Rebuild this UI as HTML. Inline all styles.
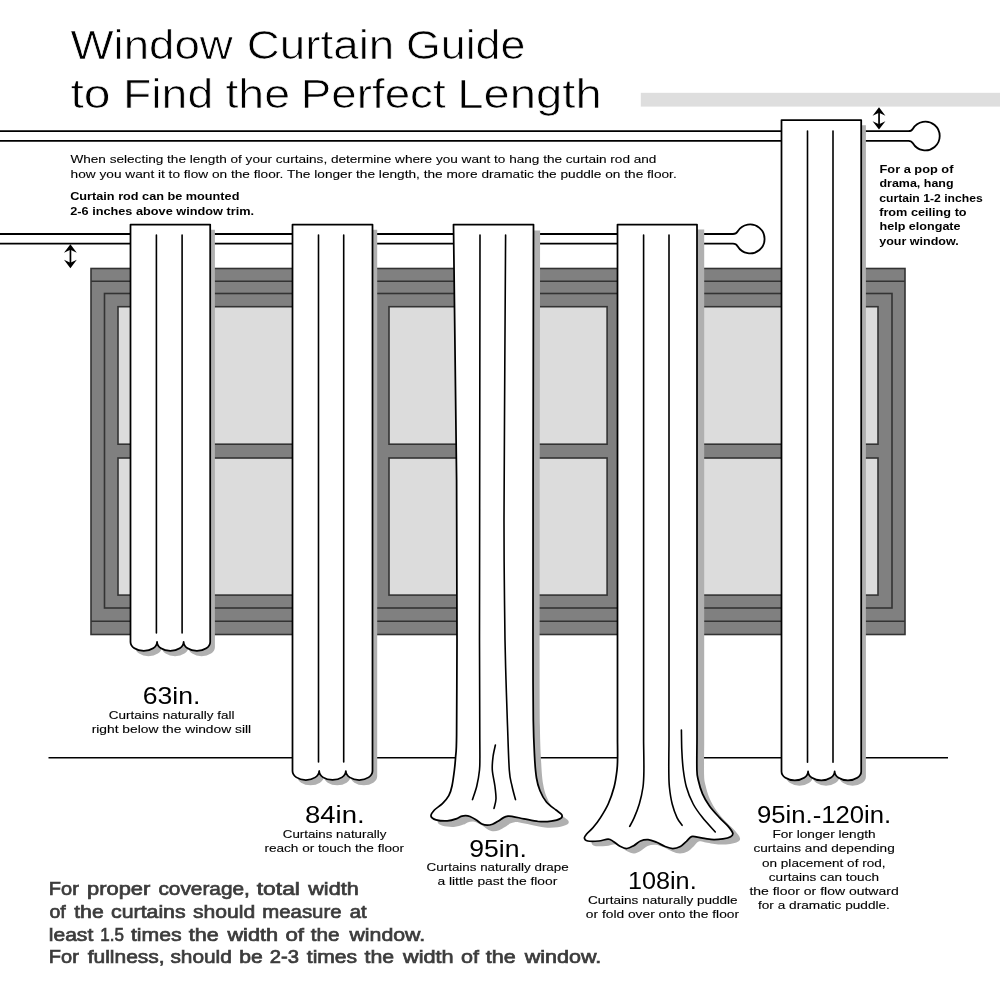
<!DOCTYPE html>
<html>
<head>
<meta charset="utf-8">
<title>Window Curtain Guide</title>
<style>
html,body{margin:0;padding:0;background:#fff;}
body{width:1000px;height:1000px;overflow:hidden;font-family:"Liberation Sans",sans-serif;}
svg{display:block;position:absolute;left:0;top:0;}
text{font-family:"Liberation Sans",sans-serif;fill:#000;}
.t{font-size:40px;stroke:#fff;stroke-width:0.7px;}
.p{font-size:11.8px;stroke:#000;stroke-width:0.1px;}
.b{font-size:11.8px;font-weight:bold;}
.n{font-size:23.1px;}
.s{font-size:11.5px;stroke:#000;stroke-width:0.12px;}
.f{font-size:18.4px;fill:#3c3c3c;stroke:#3c3c3c;stroke-width:0.7px;}
.cf{fill:#fff;stroke:#000;stroke-width:1.75;stroke-linejoin:round;}
.fl{fill:none;stroke:#000;stroke-width:1.6;stroke-linecap:round;}
.sh{fill:#b0b0b0;stroke:none;}
.fr{fill:#808080;stroke:#333;stroke-width:1.6;}
.gl{fill:#dcdcdc;stroke:#333;stroke-width:1.6;}
</style>
</head>
<body>
<svg width="1000" height="1000" viewBox="0 0 1000 1000" style="will-change:transform">

<!-- ceiling bar -->
<rect x="640.8" y="92.8" width="359.2" height="13.8" fill="#dedede"/>

<!-- upper rod -->
<g id="rod-upper">
<path d="M0 131.2 H908.5 Q911.5 131.2 912.9 128.7 A14.4 14.4 0 1 1 912.9 143.3 Q911.5 140.8 908.5 140.8 H0" fill="#fff" stroke="#000" stroke-width="1.8"/>
</g>

<!-- lower rod -->
<g id="rod-lower">
<path d="M0 234 H733 Q736.2 234 737.6 231.5 A14.5 14.5 0 1 1 737.6 246.3 Q736.2 243.6 733 243.6 H0" fill="#fff" stroke="#000" stroke-width="1.8"/>
</g>

<!-- arrows -->
<g id="arrow-left" fill="#000" stroke="none">
<rect x="69.6" y="247" width="1.7" height="18"/>
<path d="M70.4 244.2 L76.8 252.8 L70.4 249.8 L64 252.8 Z"/>
<path d="M70.4 268.2 L76.8 259.8 L70.4 262.8 L64 259.8 Z"/>
</g>
<g id="arrow-right" fill="#000" stroke="none">
<rect x="878.2" y="110" width="1.7" height="17"/>
<path d="M879 107.3 L885.4 115.8 L879 112.8 L872.6 115.8 Z"/>
<path d="M879 129.6 L885.4 121.2 L879 124.2 L872.6 121.2 Z"/>
</g>

<!-- window -->
<g id="window">
<rect class="fr" x="91" y="268.5" width="814" height="366"/>
<line x1="91" y1="281.3" x2="905" y2="281.3" stroke="#333" stroke-width="1.6"/>
<line x1="91" y1="621.3" x2="905" y2="621.3" stroke="#333" stroke-width="1.6"/>
<rect class="fr" x="104.5" y="293.5" width="787.5" height="314.5"/>
<!-- panes -->
<rect class="gl" x="118" y="306.7" width="258" height="137.5"/>
<rect class="gl" x="118" y="458" width="258" height="137.1"/>
<rect class="gl" x="389" y="306.7" width="218.1" height="137.5"/>
<rect class="gl" x="389" y="458" width="218.1" height="137.1"/>
<rect class="gl" x="620" y="306.7" width="258" height="137.5"/>
<rect class="gl" x="620" y="458" width="258" height="137.1"/>
</g>

<!-- floor line -->
<line x1="48.5" y1="757.8" x2="948" y2="757.8" stroke="#000" stroke-width="1.5"/>

<!-- curtain 1 : 63in -->
<g id="c1">
<path class="sh" transform="translate(4.7,5.3)" d="M130.5 224.5 H210.2 V641.9 A13.28 9 0 0 1 183.63 641.9 A13.28 9 0 0 1 157.07 641.9 A13.28 9 0 0 1 130.5 641.9 Z"/>
<path class="cf" d="M130.5 224.5 H210.2 V641.9 A13.28 9 0 0 1 183.63 641.9 A13.28 9 0 0 1 157.07 641.9 A13.28 9 0 0 1 130.5 641.9 Z"/>
<line class="fl" x1="156.4" y1="235" x2="156.4" y2="633"/>
<line class="fl" x1="182.1" y1="235" x2="182.1" y2="633"/>
</g>

<!-- curtain 2 : 84in -->
<g id="c2">
<path class="sh" transform="translate(4.7,5.3)" d="M292.5 224.5 H372.5 V771 A13.33 9 0 0 1 345.83 771 A13.33 9 0 0 1 319.17 771 A13.33 9 0 0 1 292.5 771 Z"/>
<path class="cf" d="M292.5 224.5 H372.5 V771 A13.33 9 0 0 1 345.83 771 A13.33 9 0 0 1 319.17 771 A13.33 9 0 0 1 292.5 771 Z"/>
<line class="fl" x1="318.5" y1="235" x2="318.5" y2="762"/>
<line class="fl" x1="343.7" y1="235" x2="343.7" y2="762"/>
</g>

<!-- curtain 3 : 95in -->
<g id="c3">
<path class="sh" transform="translate(6.6,6)" d="M453.5 224.5 L533.5 224.5 L533.1 480.0 L533.0 640.0 C533.0 653.3 533.0 700.5 533.3 720.0 C533.6 739.5 534.1 747.3 534.6 757.0 C535.1 766.7 535.6 772.4 536.5 778.0 C537.4 783.6 538.4 786.8 540.0 790.8 C541.6 794.8 543.7 798.8 546.4 802.0 C549.1 805.2 553.4 807.9 556.0 810.0 C558.6 812.1 561.0 813.4 561.8 814.8 C562.5 816.2 562.3 817.4 560.5 818.5 C558.7 819.6 554.9 820.7 551.2 821.2 C547.5 821.7 542.9 821.9 538.4 821.5 C533.9 821.1 528.2 819.6 524.0 818.8 C519.8 818.0 515.7 817.0 513.0 816.6 C510.3 816.2 509.6 816.0 508.0 816.2 C506.4 816.4 505.1 816.8 503.5 817.6 C501.9 818.4 500.2 819.9 498.4 821.0 C496.6 822.1 494.4 823.5 492.5 824.2 C490.6 824.9 488.9 825.2 487.2 825.2 C485.4 825.2 483.9 824.9 482.0 824.0 C480.1 823.1 478.0 821.0 476.0 819.8 C474.0 818.5 471.7 817.2 470.0 816.5 C468.3 815.8 467.1 815.6 465.6 815.6 C464.1 815.6 462.5 815.9 461.0 816.4 C459.5 816.9 459.1 817.9 456.8 818.6 C454.5 819.4 450.7 820.7 447.2 820.9 C443.7 821.1 438.7 820.6 436.0 819.8 C433.3 819.0 431.3 817.6 431.0 816.0 C430.7 814.4 432.5 812.1 434.4 810.0 C436.3 807.9 440.0 806.0 442.4 803.6 C444.8 801.2 447.2 798.5 448.8 795.6 C450.4 792.7 451.1 790.3 452.0 786.0 C452.9 781.7 453.8 774.8 454.4 770.0 C455.0 765.2 455.2 762.8 455.6 757.0 C456.0 751.2 456.4 754.5 456.6 735.0 C456.8 715.5 456.9 655.8 457.0 640.0 L456.6 480.0 Z"/>
<path class="cf" d="M453.5 224.5 L533.5 224.5 L533.1 480.0 L533.0 640.0 C533.0 653.3 533.0 700.5 533.3 720.0 C533.6 739.5 534.1 747.3 534.6 757.0 C535.1 766.7 535.6 772.4 536.5 778.0 C537.4 783.6 538.4 786.8 540.0 790.8 C541.6 794.8 543.7 798.8 546.4 802.0 C549.1 805.2 553.4 807.9 556.0 810.0 C558.6 812.1 561.0 813.4 561.8 814.8 C562.5 816.2 562.3 817.4 560.5 818.5 C558.7 819.6 554.9 820.7 551.2 821.2 C547.5 821.7 542.9 821.9 538.4 821.5 C533.9 821.1 528.2 819.6 524.0 818.8 C519.8 818.0 515.7 817.0 513.0 816.6 C510.3 816.2 509.6 816.0 508.0 816.2 C506.4 816.4 505.1 816.8 503.5 817.6 C501.9 818.4 500.2 819.9 498.4 821.0 C496.6 822.1 494.4 823.5 492.5 824.2 C490.6 824.9 488.9 825.2 487.2 825.2 C485.4 825.2 483.9 824.9 482.0 824.0 C480.1 823.1 478.0 821.0 476.0 819.8 C474.0 818.5 471.7 817.2 470.0 816.5 C468.3 815.8 467.1 815.6 465.6 815.6 C464.1 815.6 462.5 815.9 461.0 816.4 C459.5 816.9 459.1 817.9 456.8 818.6 C454.5 819.4 450.7 820.7 447.2 820.9 C443.7 821.1 438.7 820.6 436.0 819.8 C433.3 819.0 431.3 817.6 431.0 816.0 C430.7 814.4 432.5 812.1 434.4 810.0 C436.3 807.9 440.0 806.0 442.4 803.6 C444.8 801.2 447.2 798.5 448.8 795.6 C450.4 792.7 451.1 790.3 452.0 786.0 C452.9 781.7 453.8 774.8 454.4 770.0 C455.0 765.2 455.2 762.8 455.6 757.0 C456.0 751.2 456.4 754.5 456.6 735.0 C456.8 715.5 456.9 655.8 457.0 640.0 L456.6 480.0 Z"/>
<path class="fl" d="M480.0 235.0 L479.5 640.0 L479.8 740.0 C479.8 742.8 479.9 752.0 479.9 757.0 C479.8 762.0 480.0 765.2 479.5 770.0 C479.0 774.8 478.0 781.1 476.8 786.0 C475.6 790.9 473.2 797.3 472.5 799.6 "/>
<path class="fl" d="M505.6 235.0 C505.5 245.8 505.4 269.2 505.2 300.0 C505.0 330.8 504.7 383.3 504.5 420.0 C504.3 456.7 504.0 493.3 504.0 520.0 C504.0 546.7 504.1 560.0 504.3 580.0 C504.5 600.0 504.7 623.3 505.0 640.0 C505.3 656.7 505.6 666.7 506.0 680.0 C506.4 693.3 506.8 705.0 507.3 720.0 C507.9 735.0 508.5 759.0 509.3 770.0 C510.1 781.0 511.0 781.1 512.0 786.0 C513.0 790.9 514.9 797.3 515.5 799.6"/>
<path class="fl" d="M495.4 745.0 C495.0 747.0 493.5 752.8 493.0 757.0 C492.5 761.2 492.0 765.2 492.3 770.0 C492.6 774.8 494.3 781.2 494.9 786.0 C495.5 790.8 496.1 795.1 496.0 798.8 C495.9 802.5 494.3 806.8 494.0 808.4"/>
</g>

<!-- curtain 4 : 108in -->
<g id="c4">
<path class="sh" transform="translate(7.2,5)" d="M617.5 224.5 L697.0 224.5 L697.0 740.0 C697.0 745.0 696.7 763.3 696.9 770.0 C697.1 776.7 697.4 776.2 698.3 780.2 C699.2 784.2 700.7 789.5 702.5 793.8 C704.3 798.0 706.5 801.7 709.3 805.7 C712.1 809.7 716.4 814.2 719.5 817.6 C722.6 821.0 725.8 823.5 728.0 826.1 C730.2 828.7 732.4 831.4 732.8 833.2 C733.2 835.0 732.2 835.8 730.6 836.8 C729.0 837.8 726.2 838.5 722.9 838.9 C719.6 839.3 715.2 839.7 711.0 839.4 C706.8 839.1 700.6 837.7 697.4 837.2 C694.1 836.7 693.3 835.9 691.5 836.6 C689.7 837.3 688.2 839.8 686.4 841.4 C684.5 843.0 682.7 845.3 680.4 846.5 C678.1 847.7 675.3 848.5 672.8 848.5 C670.2 848.5 667.8 847.5 665.1 846.5 C662.4 845.5 659.4 843.4 656.6 842.3 C653.8 841.2 650.8 839.9 648.1 839.7 C645.4 839.5 642.9 840.0 640.5 841.0 C638.1 842.0 636.0 844.5 633.7 845.7 C631.4 847.0 629.2 848.4 626.9 848.5 C624.6 848.6 622.3 847.4 620.0 846.2 C617.7 845.0 615.3 842.6 613.3 841.4 C611.3 840.2 610.6 839.3 608.2 839.2 C605.8 839.1 602.2 840.7 598.8 841.0 C595.4 841.3 590.2 841.5 587.8 841.0 C585.4 840.5 584.5 839.2 584.4 838.0 C584.2 836.8 585.5 835.5 586.9 833.8 C588.3 832.1 590.6 830.5 592.9 827.8 C595.2 825.1 598.0 821.6 600.5 817.6 C603.0 813.6 605.9 809.1 608.2 804.0 C610.5 798.9 612.6 792.7 614.1 787.0 C615.6 781.3 616.4 775.0 617.0 770.0 C617.6 765.0 617.5 762.0 617.6 757.0 C617.7 752.0 617.5 742.8 617.5 740.0 Z"/>
<path class="cf" d="M617.5 224.5 L697.0 224.5 L697.0 740.0 C697.0 745.0 696.7 763.3 696.9 770.0 C697.1 776.7 697.4 776.2 698.3 780.2 C699.2 784.2 700.7 789.5 702.5 793.8 C704.3 798.0 706.5 801.7 709.3 805.7 C712.1 809.7 716.4 814.2 719.5 817.6 C722.6 821.0 725.8 823.5 728.0 826.1 C730.2 828.7 732.4 831.4 732.8 833.2 C733.2 835.0 732.2 835.8 730.6 836.8 C729.0 837.8 726.2 838.5 722.9 838.9 C719.6 839.3 715.2 839.7 711.0 839.4 C706.8 839.1 700.6 837.7 697.4 837.2 C694.1 836.7 693.3 835.9 691.5 836.6 C689.7 837.3 688.2 839.8 686.4 841.4 C684.5 843.0 682.7 845.3 680.4 846.5 C678.1 847.7 675.3 848.5 672.8 848.5 C670.2 848.5 667.8 847.5 665.1 846.5 C662.4 845.5 659.4 843.4 656.6 842.3 C653.8 841.2 650.8 839.9 648.1 839.7 C645.4 839.5 642.9 840.0 640.5 841.0 C638.1 842.0 636.0 844.5 633.7 845.7 C631.4 847.0 629.2 848.4 626.9 848.5 C624.6 848.6 622.3 847.4 620.0 846.2 C617.7 845.0 615.3 842.6 613.3 841.4 C611.3 840.2 610.6 839.3 608.2 839.2 C605.8 839.1 602.2 840.7 598.8 841.0 C595.4 841.3 590.2 841.5 587.8 841.0 C585.4 840.5 584.5 839.2 584.4 838.0 C584.2 836.8 585.5 835.5 586.9 833.8 C588.3 832.1 590.6 830.5 592.9 827.8 C595.2 825.1 598.0 821.6 600.5 817.6 C603.0 813.6 605.9 809.1 608.2 804.0 C610.5 798.9 612.6 792.7 614.1 787.0 C615.6 781.3 616.4 775.0 617.0 770.0 C617.6 765.0 617.5 762.0 617.6 757.0 C617.7 752.0 617.5 742.8 617.5 740.0 Z"/>
<path class="fl" d="M643.6 235.0 L643.6 740.0 C643.6 745.0 644.0 762.2 643.9 770.0 C643.8 777.8 643.8 781.3 643.0 787.0 C642.2 792.7 640.8 798.9 639.3 804.0 C637.8 809.1 635.8 813.9 634.2 817.6 C632.6 821.3 630.5 824.9 629.7 826.4 "/>
<path class="fl" d="M669.0 235.0 L669.0 740.0 C669.0 745.0 668.7 762.2 668.8 770.0 C668.9 777.8 668.8 781.3 669.4 787.0 C670.0 792.7 670.9 798.9 672.2 804.0 C673.5 809.1 675.4 814.1 677.0 817.6 C678.6 821.1 681.2 824.0 682.1 825.3 "/>
<path class="fl" d="M681.4 730.0 C681.5 733.3 681.5 743.3 681.8 750.0 C682.1 756.7 682.5 763.8 683.3 770.0 C684.1 776.2 684.8 781.3 686.4 787.0 C688.0 792.7 690.5 798.9 693.2 804.0 C695.9 809.1 698.8 812.9 702.5 817.6 C706.2 822.3 713.2 829.6 715.3 832.0"/>
</g>

<!-- curtain 5 : 95-120in -->
<g id="c5">
<path class="sh" transform="translate(4.7,5.3)" d="M781.5 120 H861.2 V771.4 A13.28 9 0 0 1 834.63 771.4 A13.28 9 0 0 1 808.07 771.4 A13.28 9 0 0 1 781.5 771.4 Z"/>
<path class="cf" d="M781.5 120 H861.2 V771.4 A13.28 9 0 0 1 834.63 771.4 A13.28 9 0 0 1 808.07 771.4 A13.28 9 0 0 1 781.5 771.4 Z"/>
<line class="fl" x1="807.5" y1="131" x2="807.5" y2="762.3"/>
<line class="fl" x1="833" y1="131" x2="833" y2="762.3"/>
</g>

<!-- TEXT-BEGIN -->
<text class="t" transform="translate(70.40,59.4) scale(1.1420,1)">Window</text>
<text class="t" transform="translate(246.81,59.4) scale(1.1444,1)">Curtain</text>
<text class="t" transform="translate(405.96,59.4) scale(1.1189,1)">Guide</text>
<text class="t" transform="translate(70.40,107.5) scale(1.2020,1)">to</text>
<text class="t" transform="translate(122.92,107.5) scale(1.1603,1)">Find</text>
<text class="t" transform="translate(225.40,107.5) scale(1.1626,1)">the</text>
<text class="t" transform="translate(300.77,107.5) scale(1.1440,1)">Perfect</text>
<text class="t" transform="translate(457.26,107.5) scale(1.1811,1)">Length</text>
<text class="f" transform="translate(48.81,895.0) scale(1.0884,1)">For</text>
<text class="f" transform="translate(87.01,895.0) scale(1.1915,1)">proper</text>
<text class="f" transform="translate(158.40,895.0) scale(1.1324,1)">coverage,</text>
<text class="f" transform="translate(256.70,895.0) scale(1.2442,1)">total</text>
<text class="f" transform="translate(308.27,895.0) scale(1.1738,1)">width</text>
<text class="f" transform="translate(49.40,917.8) scale(1.0599,1)">of</text>
<text class="f" transform="translate(74.20,917.8) scale(1.1524,1)">the</text>
<text class="f" transform="translate(111.10,917.8) scale(1.1573,1)">curtains</text>
<text class="f" transform="translate(193.00,917.8) scale(1.1470,1)">should</text>
<text class="f" transform="translate(262.29,917.8) scale(1.1077,1)">measure</text>
<text class="f" transform="translate(349.80,917.8) scale(1.0967,1)">at</text>
<text class="f" transform="translate(48.76,940.5) scale(1.1448,1)">least</text>
<text class="f" transform="translate(100.28,940.5) scale(0.9245,1)">1.5</text>
<text class="f" transform="translate(130.90,940.5) scale(1.1522,1)">times</text>
<text class="f" transform="translate(188.80,940.5) scale(1.1722,1)">the</text>
<text class="f" transform="translate(227.38,940.5) scale(1.1829,1)">width</text>
<text class="f" transform="translate(285.40,940.5) scale(1.2078,1)">of</text>
<text class="f" transform="translate(310.70,940.5) scale(1.1288,1)">the</text>
<text class="f" transform="translate(349.46,940.5) scale(1.1574,1)">window.</text>
<text class="f" transform="translate(48.81,963.2) scale(1.0884,1)">For</text>
<text class="f" transform="translate(87.70,963.2) scale(1.1393,1)">fullness,</text>
<text class="f" transform="translate(170.40,963.2) scale(1.1341,1)">should</text>
<text class="f" transform="translate(239.35,963.2) scale(1.1494,1)">be</text>
<text class="f" transform="translate(269.80,963.2) scale(1.0967,1)">2-3</text>
<text class="f" transform="translate(306.80,963.2) scale(1.1453,1)">times</text>
<text class="f" transform="translate(364.50,963.2) scale(1.1564,1)">the</text>
<text class="f" transform="translate(402.98,963.2) scale(1.1807,1)">width</text>
<text class="f" transform="translate(461.00,963.2) scale(1.1708,1)">of</text>
<text class="f" transform="translate(485.80,963.2) scale(1.1722,1)">the</text>
<text class="f" transform="translate(524.77,963.2) scale(1.1712,1)">window.</text>
<text class="p" transform="translate(70.40,163.1) scale(1.1524,1)">When selecting the length of your curtains, determine where you want to hang the curtain rod and</text>
<text class="p" transform="translate(70.60,177.9) scale(1.1590,1)">how you want it to flow on the floor. The longer the length, the more dramatic the puddle on the floor.</text>
<text class="b" transform="translate(70.20,200.0) scale(1.0758,1)">Curtain rod can be mounted</text>
<text class="b" transform="translate(70.20,214.6) scale(1.0796,1)">2-6 inches above window trim.</text>
<text class="b" transform="translate(879.50,172.8) scale(1.0862,1)">For a pop of</text>
<text class="b" transform="translate(879.50,187.2) scale(1.0553,1)">drama, hang</text>
<text class="b" transform="translate(879.20,201.6) scale(1.0323,1)">curtain 1-2 inches</text>
<text class="b" transform="translate(879.20,215.7) scale(1.0757,1)">from ceiling to</text>
<text class="b" transform="translate(879.50,229.9) scale(1.0670,1)">help elongate</text>
<text class="b" transform="translate(879.20,244.5) scale(1.0609,1)">your window.</text>
<text class="n" transform="translate(142.75,704.2) scale(1.1519,1)">63in.</text>
<text class="n" transform="translate(305.01,823.4) scale(1.1917,1)">84in.</text>
<text class="n" transform="translate(469.15,856.6) scale(1.1519,1)">95in.</text>
<text class="n" transform="translate(627.91,889.2) scale(1.0925,1)">108in.</text>
<text class="n" transform="translate(756.89,823.1) scale(1.1135,1)">95in.-120in.</text>
<text class="s" transform="translate(108.80,718.9) scale(1.1711,1)">Curtains naturally fall</text>
<text class="s" transform="translate(91.70,733.0) scale(1.2002,1)">right below the window sill</text>
<text class="s" transform="translate(282.80,838.0) scale(1.1590,1)">Curtains naturally</text>
<text class="s" transform="translate(264.40,852.1) scale(1.1821,1)">reach or touch the floor</text>
<text class="s" transform="translate(426.60,870.9) scale(1.1652,1)">Curtains naturally drape</text>
<text class="s" transform="translate(437.40,884.9) scale(1.2033,1)">a little past the floor</text>
<text class="s" transform="translate(588.00,903.9) scale(1.1781,1)">Curtains naturally puddle</text>
<text class="s" transform="translate(585.80,918.3) scale(1.2006,1)">or fold over onto the floor</text>
<text class="s" transform="translate(772.40,837.7) scale(1.1890,1)">For longer length</text>
<text class="s" transform="translate(753.50,852.0) scale(1.1824,1)">curtains and depending</text>
<text class="s" transform="translate(762.00,866.5) scale(1.1792,1)">on placement of rod,</text>
<text class="s" transform="translate(768.80,880.8) scale(1.1815,1)">curtains can touch</text>
<text class="s" transform="translate(749.40,894.9) scale(1.2180,1)">the floor or flow outward</text>
<text class="s" transform="translate(758.00,909.3) scale(1.1861,1)">for a dramatic puddle.</text>
<!-- TEXT-END -->
</svg>
</body>
</html>
